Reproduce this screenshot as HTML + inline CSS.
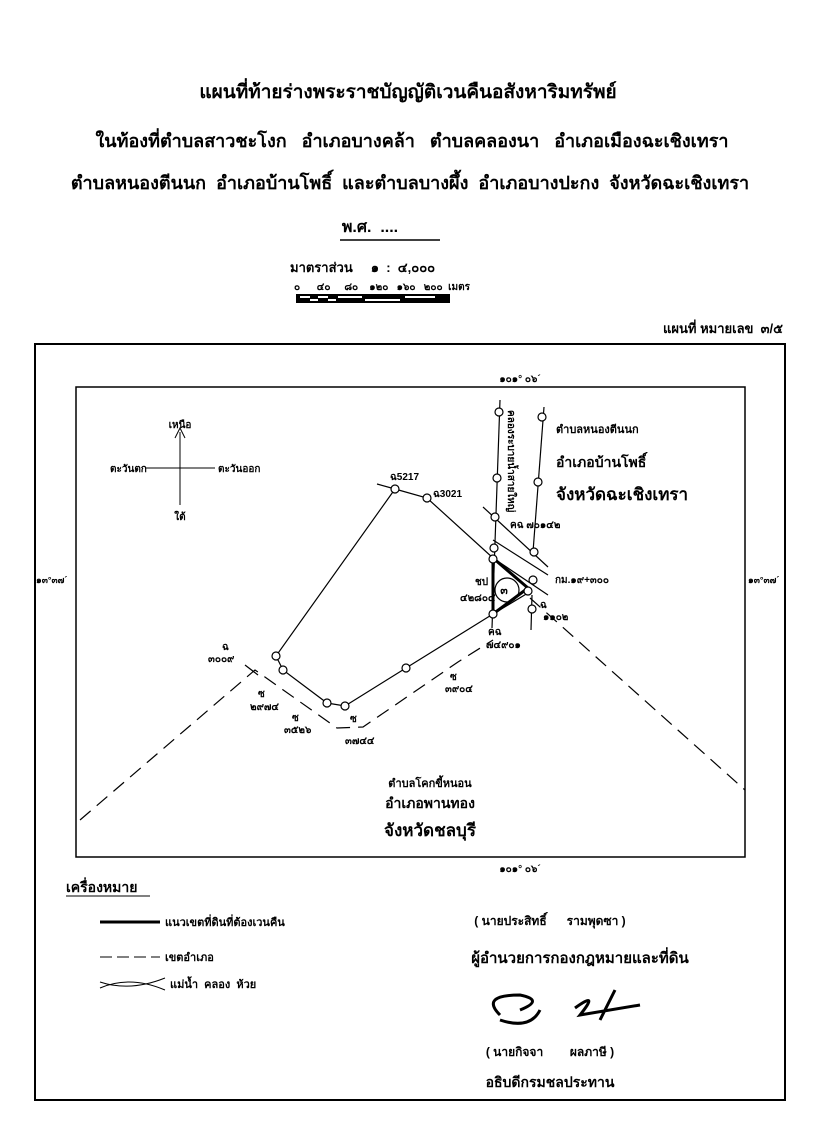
<!DOCTYPE html>
<html><head><meta charset="utf-8"><style>
html,body{margin:0;padding:0;background:#fff;}
body{width:816px;height:1128px;position:relative;overflow:hidden;font-family:"Liberation Sans","Noto Sans CJK SC",sans-serif;color:#000;}
svg{position:absolute;left:0;top:0;}
text{font-family:"Liberation Sans","Noto Sans CJK SC",sans-serif;fill:#000;white-space:pre;}
</style></head><body>
<svg width="816" height="1128" viewBox="0 0 816 1128">
<g font-weight="bold" text-anchor="middle">
<text x="408" y="98" font-size="19">แผนที่ท้ายร่างพระราชบัญญัติเวนคืนอสังหาริมทรัพย์</text>
<text x="412" y="147" font-size="18">ในท้องที่ตำบลสาวชะโงก   อำเภอบางคล้า   ตำบลคลองนา   อำเภอเมืองฉะเชิงเทรา</text>
<text x="410" y="189" font-size="18">ตำบลหนองตีนนก  อำเภอบ้านโพธิ์  และตำบลบางผึ้ง  อำเภอบางปะกง  จังหวัดฉะเชิงเทรา</text>
<text x="370" y="232" font-size="16">พ.ศ.  ....</text>
</g>
<line x1="340" y1="240" x2="440" y2="240" stroke="#000" stroke-width="1.5"/>
<text x="290" y="272" font-size="13" font-weight="bold">มาตราส่วน     ๑  :  ๔,๐๐๐</text>
<text x="294" y="290" font-size="10" font-weight="bold">๐      ๔๐     ๘๐    ๑๒๐   ๑๖๐   ๒๐๐  เมตร</text>
<rect x="296" y="294" width="154" height="9" fill="#000"/>
<rect x="300" y="296" width="10" height="2" fill="#fff"/><rect x="318" y="296" width="10" height="2" fill="#fff"/><rect x="338" y="296" width="24" height="2" fill="#fff"/><rect x="405" y="296" width="30" height="2" fill="#fff"/>
<rect x="310" y="299" width="8" height="2" fill="#fff"/><rect x="328" y="299" width="8" height="2" fill="#fff"/><rect x="365" y="299" width="35" height="2" fill="#fff"/>
<text x="783" y="333" font-size="13" font-weight="bold" text-anchor="end">แผนที่ หมายเลข  ๓/๕</text>
<rect x="35" y="344" width="750" height="756" fill="none" stroke="#000" stroke-width="2"/>
<rect x="76" y="387" width="669" height="470" fill="none" stroke="#000" stroke-width="1.5"/>
<text x="520" y="382" font-size="10" font-weight="bold" text-anchor="middle">๑๐๑° ๐๖´</text>
<text x="520" y="872" font-size="10" font-weight="bold" text-anchor="middle">๑๐๑° ๐๖´</text>
<text x="36" y="583" font-size="9" font-weight="bold">๑๓°๓๗´</text>
<text x="748" y="583" font-size="9" font-weight="bold">๑๓°๓๗´</text>
<line x1="180" y1="432" x2="180" y2="505" stroke="#000"/>
<polyline points="175,438 180,428 185,438" fill="none" stroke="#000"/>
<line x1="145" y1="468" x2="215" y2="468" stroke="#000"/>
<text x="180" y="428" font-size="10" font-weight="bold" text-anchor="middle">เหนือ</text>
<text x="110" y="472" font-size="10" font-weight="bold">ตะวันตก</text>
<text x="218" y="472" font-size="10" font-weight="bold">ตะวันออก</text>
<text x="180" y="520" font-size="10" font-weight="bold" text-anchor="middle">ใต้</text>
<g stroke="#000" fill="none" stroke-width="1.2">
<polyline points="377,484 395,489 427,498 493,558 548,595"/>
<polyline points="395,489 276,656 283,670 327,703 345,706 406,668 493,614 528,593"/>
<polyline points="493,540 548,575"/>
<polyline points="483,507 548,567"/>
<line x1="500" y1="400" x2="492" y2="628"/>
<line x1="544" y1="407" x2="533" y2="552"/>
<line x1="532" y1="595" x2="531" y2="630"/>
<polygon points="493,558 528,588 493,614" stroke-width="3"/>
<circle cx="507" cy="590" r="12"/>
<polyline points="80,820 255,670 337,728 363,727 458,662 493,640" stroke-dasharray="14,8"/>
<polyline points="530,598 745,790" stroke-dasharray="14,8"/>
<polyline points="245,665 258,675"/>
</g>
<g stroke="#000" fill="#fff" stroke-width="1.2">
<circle cx="395" cy="489" r="4"/><circle cx="427" cy="498" r="4"/>
<circle cx="499" cy="412" r="4"/><circle cx="497" cy="478" r="4"/><circle cx="495" cy="517" r="4"/><circle cx="494" cy="548" r="4"/><circle cx="493" cy="559" r="4"/>
<circle cx="542" cy="417" r="4"/><circle cx="538" cy="482" r="4"/><circle cx="534" cy="552" r="4"/>
<circle cx="533" cy="580" r="4"/><circle cx="528" cy="591" r="4"/><circle cx="532" cy="609" r="4"/><circle cx="493" cy="614" r="4"/>
<circle cx="276" cy="656" r="4"/><circle cx="283" cy="670" r="4"/><circle cx="327" cy="703" r="4"/><circle cx="345" cy="706" r="4"/><circle cx="406" cy="668" r="4"/>
</g>
<g font-size="10" font-weight="bold">
<text x="390" y="480">ฉ5217</text><text x="433" y="497">ฉ3021</text>
<text x="504" y="594" font-size="11" text-anchor="middle">๓</text>
<text x="475" y="585">ชป</text><text x="460" y="601">๔๒๘๐๔</text>
<text x="540" y="608">ฉ</text><text x="543" y="620">๑๑๐๒</text>
<text x="488" y="635">คฉ</text><text x="486" y="648">๗๔๙๐๑</text>
<text x="510" y="528">คฉ ๗๐๑๔๒</text>
<text x="555" y="583">กม.๑๙+๓๐๐</text>
<text x="222" y="650">ฉ</text><text x="208" y="662">๓๐๐๙</text>
<text x="258" y="697">ซ</text><text x="250" y="710">๒๙๗๔</text>
<text x="292" y="721">ซ</text><text x="284" y="733">๓๕๒๖</text>
<text x="350" y="722">ซ</text><text x="345" y="744">๓๗๔๔</text>
<text x="450" y="680">ซ</text><text x="445" y="692">๓๙๐๔</text>
<text transform="translate(508,410) rotate(90)">คลองระบายน้ำสายใหญ่</text>
</g>
<text x="556" y="433" font-size="11" font-weight="bold">ตำบลหนองตีนนก</text>
<text x="556" y="467" font-size="14" font-weight="bold">อำเภอบ้านโพธิ์</text>
<text x="556" y="500" font-size="17" font-weight="bold">จังหวัดฉะเชิงเทรา</text>
<text x="430" y="787" font-size="11" font-weight="bold" text-anchor="middle">ตำบลโคกขี้หนอน</text>
<text x="430" y="808" font-size="14" font-weight="bold" text-anchor="middle">อำเภอพานทอง</text>
<text x="430" y="836" font-size="17" font-weight="bold" text-anchor="middle">จังหวัดชลบุรี</text>
<text x="66" y="892" font-size="14" font-weight="bold">เครื่องหมาย</text>
<line x1="66" y1="896" x2="150" y2="896" stroke="#000"/>
<line x1="100" y1="922" x2="160" y2="922" stroke="#000" stroke-width="3"/>
<text x="165" y="926" font-size="11" font-weight="bold">แนวเขตที่ดินที่ต้องเวนคืน</text>
<line x1="100" y1="957" x2="160" y2="957" stroke="#000" stroke-dasharray="12,5"/>
<text x="165" y="961" font-size="11" font-weight="bold">เขตอำเภอ</text>
<path d="M100,988 Q130,975 165,990 M100,982 Q130,992 165,978" stroke="#000" fill="none"/>
<text x="170" y="988" font-size="11" font-weight="bold">แม่น้ำ  คลอง  ห้วย</text>
<text x="550" y="925" font-size="12" font-weight="bold" text-anchor="middle">( นายประสิทธิ์      รามพุดซา )</text>
<text x="580" y="963" font-size="15" font-weight="bold" text-anchor="middle">ผู้อำนวยการกองกฎหมายและที่ดิน</text>
<path d="M500,1015 Q480,995 520,995 Q545,1000 520,1010 M500,1020 Q530,1030 540,1010 M575,1008 Q600,990 580,1015 L640,1005 M600,1020 L615,990" stroke="#000" stroke-width="3" fill="none"/>
<text x="550" y="1056" font-size="12" font-weight="bold" text-anchor="middle">( นายกิจจา        ผลภาษี )</text>
<text x="550" y="1087" font-size="14" font-weight="bold" text-anchor="middle">อธิบดีกรมชลประทาน</text>
</svg>
</body></html>
